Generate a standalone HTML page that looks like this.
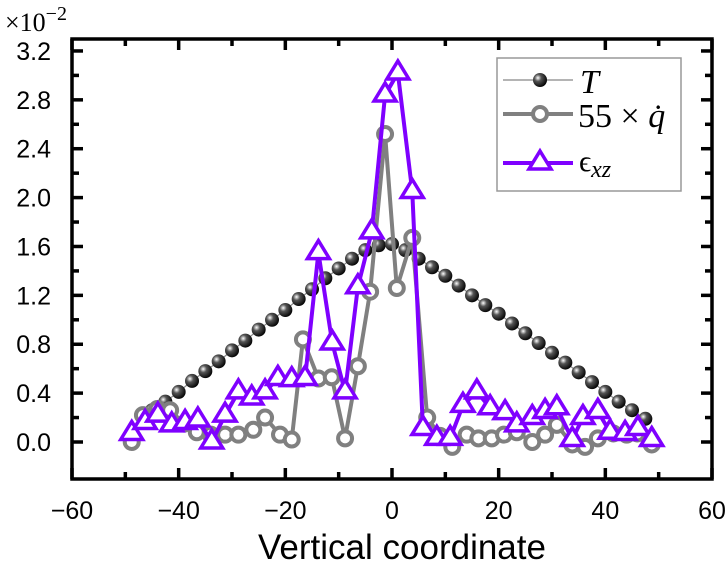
<!DOCTYPE html>
<html><head><meta charset="utf-8"><style>
body{margin:0;background:#fff}
svg{display:block}
.sans{font-family:"Liberation Sans","DejaVu Sans",sans-serif}
.serif{font-family:"Liberation Serif","DejaVu Serif",serif}
</style></head><body>
<svg id="chart" width="725" height="566" viewBox="0 0 725 566">
<defs>
<radialGradient id="ball" cx="0.35" cy="0.35" r="0.7">
<stop offset="0" stop-color="#fff"/><stop offset="0.35" stop-color="#555"/><stop offset="1" stop-color="#000"/>
</radialGradient>
</defs>
<g id="marks"></g>
<g id="axes"></g>
<g id="legend">
<rect x="497" y="58" width="184" height="133" fill="#fff" stroke="#999" stroke-width="1.5"/>
<g>
<line x1="503" y1="80" x2="573" y2="80" stroke="#888" stroke-width="1.2"/>
<circle cx="540" cy="80" r="7" fill="url(#ball)"/>
<text class="serif" x="580" y="93" font-style="italic" font-size="34">T</text>
</g>
<g>
<line x1="503" y1="114" x2="573" y2="114" stroke="#808080" stroke-width="4"/>
<circle cx="540" cy="114" r="7" fill="#fff" stroke="#808080" stroke-width="4"/>
<text class="serif" x="578" y="127" font-size="34">55 × <tspan font-style="italic">q̇</tspan></text>
</g>
<g>
<line x1="503" y1="163" x2="573" y2="163" stroke="#7f00ff" stroke-width="4"/>
<polygon points="540,151 551,169 529,169" fill="#fff" stroke="#7f00ff" stroke-width="3.5"/>
<text class="serif" x="579" y="171" font-size="30">ϵ<tspan font-style="italic" font-size="24" dy="6">xz</tspan></text>
</g>
</g>
</svg>
<script>
const xTicks=[-60,-40,-20,0,20,40,60];
const yTicks=[0.0,0.4,0.8,1.2,1.6,2.0,2.4,2.8,3.2];
const tX=[-45,-42.5,-40,-37.5,-35,-32.5,-30,-27.5,-25,-22.5,-20,-17.5,-15,-12.5,-10,-7.5,-5,-2.5,0,2.5,5,7.5,10,12.5,15,17.5,20,22.5,25,27.5,30,32.5,35,37.5,40,42.5,45,47.5];
const tY=[0.26,0.33,0.41,0.5,0.58,0.66,0.75,0.83,0.92,1.0,1.08,1.17,1.25,1.34,1.42,1.5,1.57,1.61,1.62,1.57,1.5,1.43,1.36,1.28,1.2,1.12,1.05,0.97,0.89,0.81,0.73,0.65,0.57,0.49,0.41,0.33,0.26,0.19];
const qX=[-48.8,-46.7,-44,-41.6,-39,-36.6,-34,-31.3,-28.8,-26,-23.8,-21,-18.8,-16.7,-13.8,-11.3,-8.8,-6.4,-4.1,-1.3,0.9,3.8,6.6,9,11.3,14,16.2,18.7,21,23.4,26.3,28.7,30.9,33.8,36.2,38.6,41.5,44,46,48.7];
const qY=[0.0,0.22,0.27,0.26,0.15,0.08,0.06,0.06,0.06,0.1,0.2,0.06,0.02,0.84,0.52,0.53,0.03,0.62,1.23,2.52,1.26,1.67,0.2,0.05,-0.04,0.06,0.03,0.03,0.06,0.08,0.0,0.06,0.14,-0.02,-0.04,0.03,0.07,0.06,0.07,-0.02];
const eX=[-48.8,-46.3,-43.9,-41.3,-38.8,-36.4,-33.8,-31.3,-28.8,-26.3,-23.8,-21.4,-18.8,-16.3,-13.8,-11.2,-8.8,-6.4,-3.8,-1.3,1.1,3.8,5.8,8.4,10.9,13.3,15.9,18.4,21.2,23.4,26.3,28.7,30.9,33.8,35.8,38.6,40.9,43.7,46.1,48.7];
const eY=[0.07,0.16,0.22,0.14,0.16,0.18,0.0,0.22,0.41,0.36,0.41,0.52,0.51,0.52,1.55,0.81,0.41,1.27,1.72,2.84,3.02,2.05,0.11,0.03,0.03,0.3,0.41,0.28,0.24,0.14,0.2,0.25,0.28,0.02,0.2,0.25,0.08,0.07,0.11,0.02];
const L=72,R=712,T=39,B=479;
function sx(v){return 392+v*(R-L)/120;}
function sy(v){return 442-v*122.2;}
const NS='http://www.w3.org/2000/svg';
function mk(tag,attrs,parent){const e=document.createElementNS(NS,tag);for(const k in attrs)e.setAttribute(k,attrs[k]);parent.appendChild(e);return e;}
const marks=document.getElementById('marks'),axes=document.getElementById('axes');
let g=mk('g',{},marks);


let pl=mk('polyline',{points:tX.map((x,i)=>sx(x)+','+sy(tY[i])).join(' '),fill:'none',stroke:'#888','stroke-width':1.2},g);


tX.forEach((x,i)=>{const c=mk('circle',{cx:sx(x),cy:sy(tY[i]),r:7,fill:'url(#ball)'},g);

});
g=mk('g',{},marks);


pl=mk('polyline',{points:qX.map((x,i)=>sx(x)+','+sy(qY[i])).join(' '),fill:'none',stroke:'#808080','stroke-width':4},g);


qX.forEach((x,i)=>{const c=mk('circle',{cx:sx(x),cy:sy(qY[i]),r:7,fill:'#fff',stroke:'#808080','stroke-width':4},g);

});
g=mk('g',{},marks);


pl=mk('polyline',{points:eX.map((x,i)=>sx(x)+','+sy(eY[i])).join(' '),fill:'none',stroke:'#7f00ff','stroke-width':4},g);


eX.forEach((x,i)=>{const cx=sx(x),cy=sy(eY[i]);const p=mk('polygon',{points:`${cx},${cy-12} ${cx+11},${cy+6} ${cx-11},${cy+6}`,fill:'#fff',stroke:'#7f00ff','stroke-width':3.5},g);

});
const fr=mk('rect',{x:L,y:T,width:R-L,height:B-T,fill:'none',stroke:'#000','stroke-width':3.5},axes);


for(let v=-60;v<=60;v+=10){const major=v%20===0,len=major?11:7,x=sx(v);
mk('line',{x1:x,y1:B,x2:x,y2:B-len,stroke:'#000','stroke-width':3.5},axes);
mk('line',{x1:x,y1:T,x2:x,y2:T+len,stroke:'#000','stroke-width':3.5},axes);}
xTicks.forEach(v=>{const t=mk('text',{class:'sans',x:sx(v),y:519,'text-anchor':'middle','font-size':25},axes);t.textContent=(v<0?'−':'')+Math.abs(v);

});
for(let k=0;k<=17;k++){const v=k*0.2,major=k%2===0,len=major?11:7,y=sy(v);if(y<T-1)continue;
mk('line',{x1:L,y1:y,x2:L+len,y2:y,stroke:'#000','stroke-width':3.5},axes);
mk('line',{x1:R,y1:y,x2:R-len,y2:y,stroke:'#000','stroke-width':3.5},axes);}
yTicks.forEach(v=>{const t=mk('text',{class:'sans',x:51,y:sy(v)+9,'text-anchor':'end','font-size':25},axes);t.textContent=v.toFixed(1);

});
const xt=mk('text',{class:'sans',x:402,y:559,'text-anchor':'middle','font-size':35},axes);xt.textContent='Vertical coordinate';


const sc=mk('text',{class:'serif',x:5,y:31,'font-size':26},axes);sc.innerHTML='×10<tspan dy="-11" font-size="20">−2</tspan>';


</script>
</body></html>
